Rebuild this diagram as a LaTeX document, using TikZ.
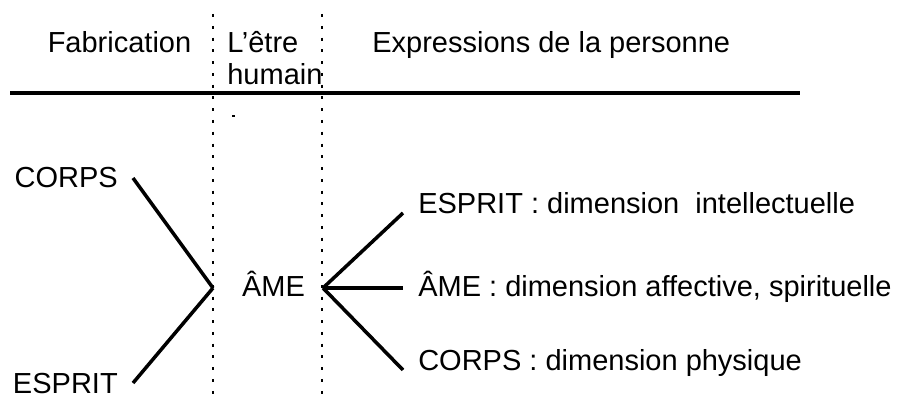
\documentclass[tikz,border=0pt]{standalone}
\usepackage{fontspec}
\setmainfont{Liberation Sans}
\usepackage{tikz}

\begin{document}
\begin{tikzpicture}[scale=0.2]
                \tikzstyle{every node}+=[inner sep=0pt, font=\fontsize{16.5}{19}\selectfont]
                \tikzstyle{sepline}=[black, line width=1.7pt, dash pattern=on 1.7pt off 5pt]
                \tikzstyle{branch}=[black, line width=2pt]
                \tikzstyle{lefttag}=[anchor=base east, inner xsep=8.5pt]
                \tikzstyle{righttag}=[anchor=base west, inner xsep=8.5pt]
                \useasboundingbox (0,0) rectangle (90.9,-40.2);
                \draw [sepline] (21.3,-1.4) -- (21.3,-40.2);
                \draw [sepline] (32.2,-1.4) -- (32.2,-40.2);
                \draw [black, line width=2.4pt] (1.0,-9.3) -- (80.0,-9.3);
                \fill [black] (23.2,-11.5) rectangle (23.45,-11.75);
                \node [anchor=base] (fab) at (11.95,-5.3) {Fabrication};
                \node [anchor=base west] (etre) at (22.7,-5.3) {L’être};
                \node [anchor=base west] (humain) at (22.7,-8.5) {humain};
                \node [anchor=base west] (expr) at (37.2,-5.3) {Expressions de la personne};
                \coordinate (jl) at (21.3,-28.8);
                \coordinate (jr) at (32.3,-28.8);
                \node [lefttag] (corpsL) at (13.3,-18.8) {CORPS};
                \node [lefttag] (espritL) at (13.3,-39.3) {ESPRIT};
                \node [anchor=base] (ame) at (27.35,-29.7) {ÂME};
                \node [righttag] (espritR) at (40.3,-21.3) {ESPRIT : dimension\ \ intellectuelle};
                \node [righttag] (ameR) at (40.3,-29.7) {ÂME : dimension affective, spirituelle};
                \node [righttag] (corpsR) at (40.3,-37.0) {CORPS : dimension physique};
                \draw [branch] (corpsL.east) -- (jl);
                \draw [branch] (espritL.east) -- (jl);
                \draw [branch] (jr) -- (espritR.base west);
                \draw [branch] (jr) -- (ameR.west |- jr);
                \draw [branch] (jr) -- (corpsR.base west);
            \end{tikzpicture}
\end{document}
